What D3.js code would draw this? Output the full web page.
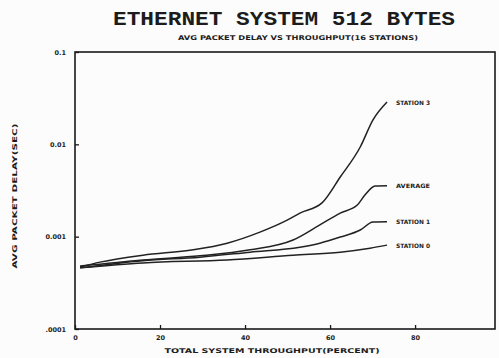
<!DOCTYPE html>
<html>
<head>
<meta charset="utf-8">
<script src="https://cdn.jsdelivr.net/npm/d3@7"></script>
<style>
  html, body { margin: 0; padding: 0; background: #fcfcfc; }
  svg { display: block; }
  text { fill: #1c1c1c; }
</style>
</head>
<body>
<svg id="chart" width="499" height="358"></svg>
<script>
// Average packet delay (seconds) against total throughput (percent)
const xTicks = [0, 20, 40, 60, 80];
const xTickLabels = ["0", "20", "40", "60", "80"];
const yTicks = [0.0001, 0.001, 0.01, 0.1];
const yTickLabels = [".0001", "0.001", "0.01", "0.1"];

const seriesNames = ["STATION 3", "AVERAGE", "STATION 1", "STATION 0"];

const throughput3 = [1.2, 5.9, 16.0, 27.8, 35.8, 43.5, 49.9, 52.9, 58.1, 62.4, 67.1, 70.1, 73.4];
const delay3      = [0.00047, 0.00053, 0.00063, 0.00072, 0.00085, 0.00112, 0.00151, 0.0018, 0.00232, 0.00443, 0.00936, 0.0184, 0.0287];

const throughputAvg = [1.2, 16.0, 29.4, 41.2, 51.3, 57.6, 62.4, 66.4, 68.2, 70.6, 73.4];
const delayAvg      = [0.00048, 0.00056, 0.00062, 0.00072, 0.00092, 0.00134, 0.0018, 0.0022, 0.00283, 0.00354, 0.00356];

const throughput1 = [1.2, 16.0, 29.4, 41.2, 52.9, 57.6, 62.4, 67.1, 70.1, 73.4];
const delay1      = [0.00046, 0.00055, 0.0006, 0.00068, 0.00077, 0.00085, 0.00099, 0.00118, 0.00144, 0.00145];

const throughput0 = [1.2, 16.0, 35.8, 51.3, 62.4, 69.4, 73.4];
const delay0      = [0.00046, 0.00052, 0.00056, 0.00063, 0.00068, 0.00075, 0.00081];

const series = [
  { name: seriesNames[0], x: throughput3, y: delay3 },
  { name: seriesNames[1], x: throughputAvg, y: delayAvg },
  { name: seriesNames[2], x: throughput1, y: delay1 },
  { name: seriesNames[3], x: throughput0, y: delay0 }
];

const svg = d3.select("#chart");
const plot = { left: 75, right: 495, top: 52, bottom: 329 };

const x = d3.scaleLinear().domain([0, 98.8]).range([plot.left, plot.right]);
const y = d3.scaleLog().domain([0.0001, 0.1]).range([plot.bottom, plot.top]);

// Titles
svg.append("text")
  .attr("x", 284).attr("y", 25)
  .attr("text-anchor", "middle")
  .attr("textLength", 342).attr("lengthAdjust", "spacingAndGlyphs")
  .style("font-family", "'Liberation Mono', 'DejaVu Sans Mono', monospace")
  .style("font-weight", "bold").style("font-size", "20px")
  .text("ETHERNET SYSTEM 512 BYTES");

svg.append("text")
  .attr("x", 298).attr("y", 40)
  .attr("text-anchor", "middle")
  .attr("textLength", 240).attr("lengthAdjust", "spacingAndGlyphs")
  .style("font-family", "'DejaVu Sans', sans-serif")
  .style("font-weight", "bold").style("font-size", "6.5px")
  .text("AVG PACKET DELAY VS THROUGHPUT(16 STATIONS)");

// Frame
svg.append("rect")
  .attr("x", plot.left).attr("y", plot.top)
  .attr("width", plot.right - plot.left).attr("height", plot.bottom - plot.top)
  .attr("fill", "none").attr("stroke", "#1a1a1a").attr("stroke-width", 1.6);

// Axes with inward ticks
const xAxis = d3.axisBottom(x).tickValues(xTicks)
  .tickFormat((d, i) => xTickLabels[i]).tickSize(-4).tickPadding(6);
const gx = svg.append("g").attr("transform", `translate(0,${plot.bottom})`).call(xAxis);
gx.select(".domain").remove();
gx.selectAll("line").attr("stroke", "#1a1a1a").attr("stroke-width", 1.3);
gx.selectAll("text")
  .style("font-family", "'DejaVu Sans', sans-serif")
  .style("font-weight", "bold").style("font-size", "6.5px");

const yAxis = d3.axisLeft(y).tickValues(yTicks)
  .tickFormat((d, i) => yTickLabels[i]).tickSize(-4).tickPadding(9);
const gy = svg.append("g").attr("transform", `translate(${plot.left},0)`).call(yAxis);
gy.select(".domain").remove();
gy.selectAll("line").attr("stroke", "#1a1a1a").attr("stroke-width", 1.3);
gy.selectAll("text")
  .style("font-family", "'DejaVu Sans', sans-serif")
  .style("font-weight", "bold").style("font-size", "6.5px");

// Axis titles
svg.append("text")
  .attr("x", 272).attr("y", 353)
  .attr("text-anchor", "middle")
  .attr("textLength", 215).attr("lengthAdjust", "spacingAndGlyphs")
  .style("font-family", "'DejaVu Sans', sans-serif")
  .style("font-weight", "bold").style("font-size", "6.5px")
  .text("TOTAL SYSTEM THROUGHPUT(PERCENT)");

svg.append("text")
  .attr("transform", "translate(17,196) rotate(-90)")
  .attr("text-anchor", "middle")
  .attr("textLength", 145).attr("lengthAdjust", "spacingAndGlyphs")
  .style("font-family", "'DejaVu Sans', sans-serif")
  .style("font-weight", "bold").style("font-size", "6.5px")
  .text("AVG PACKET DELAY(SEC)");

// Curves
const line = d3.line()
  .x(d => x(d[0])).y(d => y(d[1]))
  .curve(d3.curveMonotoneX);

series.forEach(s => {
  const pts = s.x.map((v, i) => [v, s.y[i]]);
  svg.append("path")
    .datum(pts)
    .attr("d", line)
    .attr("fill", "none")
    .attr("stroke", "#222")
    .attr("stroke-width", 1.5)
    .attr("stroke-linejoin", "round");

  const last = pts[pts.length - 1];
  svg.append("text")
    .attr("x", x(last[0]) + 9).attr("y", y(last[1]) + 2.5)
    .attr("textLength", 34).attr("lengthAdjust", "spacingAndGlyphs")
    .style("font-family", "'DejaVu Sans', sans-serif")
    .style("font-weight", "bold").style("font-size", "6px")
    .text(s.name);
});
</script>
</body>
</html>
